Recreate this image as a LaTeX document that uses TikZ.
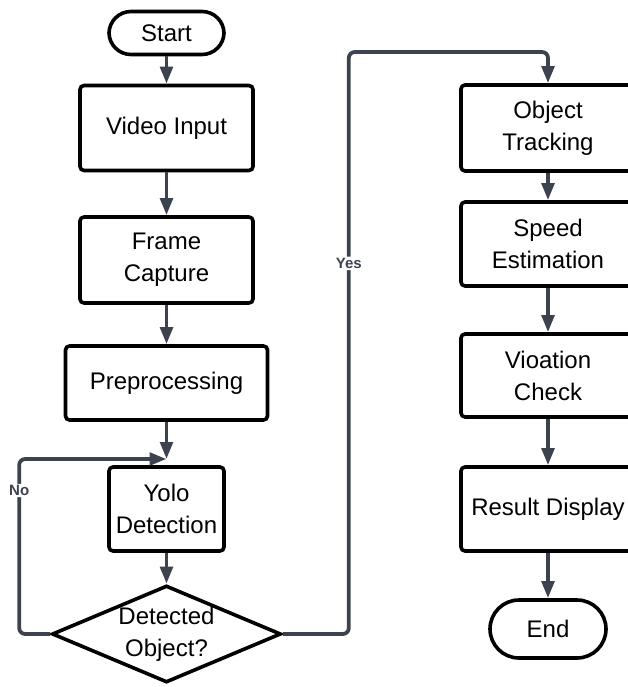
\documentclass[tikz,border=0pt]{standalone}
\usepackage{fontspec}
\setmainfont{Liberation Sans}
\usepackage{tikz}
\usetikzlibrary{arrows.meta}
\usetikzlibrary{shapes.geometric}

\definecolor{flowgray}{HTML}{3D434E}

\tikzset{
  every box/.style={draw=black, line width=3.6pt, fill=white, align=center,
    inner sep=0pt, font=\fontsize{24}{32}\selectfont},
  process/.style={every box, rectangle, rounded corners=4pt},
  terminal/.style={every box, rectangle, rounded corners=22pt},
  decision/.style={every box, diamond, aspect=2.3},
  flow/.style={draw=flowgray, line width=3.8pt, rounded corners=6pt,
    -{Triangle[length=17pt, width=12.5pt]}},
  flow label/.style={fill=white, text=flowgray, inner sep=1.5pt,
    font=\fontsize{15}{17}\bfseries}
}

\begin{document}
\begin{tikzpicture}[x=1pt, y=-1pt]

\useasboundingbox (0,0) rectangle (627,687);

\node [terminal, minimum width=115pt, minimum height=43pt] (start) at (166.5,33) {Start};

\foreach \n/\w/\h/\y/\t in {video/173/85/128/{Video Input}, frame/173/86/260/{Frame\\Capture},
    prep/202/74/383/Preprocessing, yolo/115/84/509/{Yolo\\Detection}}
  \node [process, minimum width=\w pt, minimum height=\h pt] (\n) at (166.5,\y) {\t};

\node [decision, minimum width=229pt, minimum height=97pt] (dec) at (166.5,634) {Detected\\Object?};

\foreach \n/\h/\y/\t in {track/86/128/{Object\\Tracking}, speed/84/244/{Speed\\Estimation},
    check/83/375.5/{Vioation\\Check}, result/84/509/{Result Display}}
  \node [process, minimum width=174pt, minimum height=\h pt] (\n) at (548,\y) {\t};

\node [terminal, minimum width=116pt, minimum height=58pt, rounded corners=29pt] (end) at (548,629) {End};

\coordinate (merge) at (166.5,459);

% main column
\foreach \a/\b in {start/video, video/frame, frame/prep, yolo/dec}
  \draw [flow] (\a) -- (\b);
\draw [flow] (prep) -- (merge);

% right column
\foreach \a/\b in {track/speed, speed/check, check/result, result/end}
  \draw [flow] (\a) -- (\b);

% decision branches
\draw [flow] (dec.west) -- ++(-31,0) |- node [flow label, pos=0.41] {No} (merge);
\draw [flow] (dec.east) -- ++(66,0) -- node [flow label, pos=0.637] {Yes} ++(0,-582) -| (track.north);

\end{tikzpicture}
\end{document}
